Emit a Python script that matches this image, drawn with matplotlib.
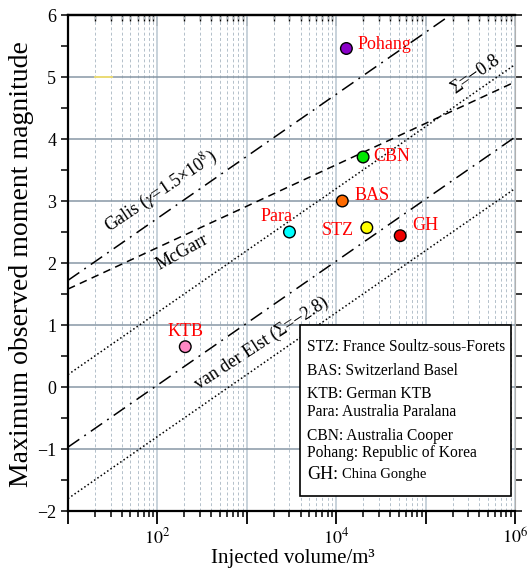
import numpy as np
import matplotlib
matplotlib.use("Agg")
import matplotlib.pyplot as plt
from matplotlib.patches import Rectangle
from matplotlib.ticker import LogLocator, MultipleLocator, NullFormatter

plt.rcParams['font.family'] = ['Liberation Serif', 'DejaVu Serif']
plt.rcParams['mathtext.fontset'] = 'stix'

# observed sites: injected volume (m3) and max magnitude
sites = ["Pohang", "CBN", "BAS", "Para", "STZ", "GH", "KTB"]
volume = [1.3e4, 2.0e4, 1.17e4, 3.0e3, 2.2e4, 5.2e4, 2.05e2]
magnitude = [5.46, 3.71, 3.0, 2.5, 2.57, 2.44, 0.65]
colors = ["#8a00c8", "#00e600", "#ff6a00", "#00ffff", "#ffff00", "#ee0000", "#ff88c4"]
# label offsets (points) relative to each marker
label_dx = [8, 7, 9, -9, -9, 9, 0]
label_dy = [3, 0, 4, 11, -2, 7, 11]
label_ha = ["left", "left", "left", "center", "right", "left", "center"]

# model lines (end points)
galis_v, galis_m = [10, 1.9e5], [1.72, 6.0]
mcgarr_v, mcgarr_m = [10, 1e6], [1.58, 4.92]
elst08_v, elst08_m = [10, 1e6], [0.2, 5.2]
lower_dd_v, lower_dd_m = [10, 1e6], [-0.97, 4.03]
elst28_v, elst28_m = [10, 1e6], [-1.8, 3.2]
yellow_v, yellow_m = [20, 31], [5, 5]

legend_lines = ["STZ: France Soultz-sous-Forets",
                "BAS: Switzerland Basel",
                "KTB: German KTB",
                "Para: Australia Paralana",
                "CBN: Australia Cooper",
                "Pohang: Republic of Korea"]

decades = [10, 1e2, 1e3, 1e4, 1e5, 1e6]
decade_labels = ["", r"$10^2$", "", r"$10^4$", "", r"$10^6$"]

fig = plt.figure(figsize=(5.28, 5.70), dpi=100)
ax = fig.add_axes([68/528, 1 - 511/570, 447/528, 496/570])
ax.set_xscale('log')
ax.set_xlim(10, 1e6)
ax.set_ylim(-2, 6)

ax.set_xticks(decades)
ax.set_xticklabels(decade_labels)
ax.xaxis.set_minor_locator(LogLocator(base=10, subs=np.arange(2, 10), numticks=50))
ax.xaxis.set_minor_formatter(NullFormatter())
ax.yaxis.set_major_locator(MultipleLocator(1))
ax.yaxis.set_minor_locator(MultipleLocator(0.5))

# grid
ax.grid(which='major', axis='y', color='#8797a5', lw=1.1)
ax.grid(which='major', axis='x', color='#c4cfd8', lw=1.3)
ax.grid(which='minor', axis='x', color='#b3c0ca', lw=0.7, ls=(0, (3, 2.5)))
ax.set_axisbelow(True)

ax.plot(yellow_v, yellow_m, color='#f2e070', lw=1.3, zorder=1)

k = 'black'
ax.plot(galis_v, galis_m, color=k, lw=1.1, dashes=(9, 4, 1.2, 4))
ax.plot(mcgarr_v, mcgarr_m, color=k, lw=1.1, dashes=(5, 3.5))
ax.plot(elst08_v, elst08_m, color=k, lw=1.1, dashes=(1, 1.6))
ax.plot(lower_dd_v, lower_dd_m, color=k, lw=1.1, dashes=(9, 4, 1.2, 4))
ax.plot(elst28_v, elst28_m, color=k, lw=1.1, dashes=(1, 1.6))

ax.scatter(volume, magnitude, s=70, c=colors, edgecolors='black', linewidths=1.0, zorder=5)
for name, v, m, dx, dy, ha in zip(sites, volume, magnitude, label_dx, label_dy, label_ha):
    ax.annotate(name, (v, m), xytext=(dx, dy), textcoords='offset points',
                ha=ha, va='center', color='red', fontsize=13, zorder=6)

# line labels
ax.text(110, 3.15, r"Galis ($\gamma$=1.5×10$^8$)", rotation=34, fontsize=13,
        ha='center', va='center', rotation_mode='anchor')
ax.text(190, 2.17, "McGarr", rotation=29, fontsize=13,
        ha='center', va='center', rotation_mode='anchor')
ax.text(3.6e5, 5.05, "Σ=−0.8", rotation=35, fontsize=13.5,
        ha='center', va='center', rotation_mode='anchor')
ax.text(1.45e3, 0.70, "van der Elst (Σ=−2.8)", rotation=33, fontsize=13,
        ha='center', va='center', rotation_mode='anchor')

# text box
ax.add_patch(Rectangle((0.519, 0.030), 0.472, 0.345, transform=ax.transAxes,
                       facecolor='white', edgecolor='black', lw=1.2, zorder=7))
ys = [0.331, 0.282, 0.236, 0.200, 0.151, 0.117]
for line, y in zip(legend_lines, ys):
    ax.text(0.535, y, line, transform=ax.transAxes, fontsize=11.2, va='center', zorder=8)
ax.text(0.535, 0.073, "GH:", transform=ax.transAxes, fontsize=13, va='center', zorder=8)
ax.text(0.612, 0.073, "China Gonghe", transform=ax.transAxes, fontsize=10.5, va='center', zorder=8)

# spines and ticks
for side in ['left', 'bottom', 'top']:
    ax.spines[side].set_linewidth(1.6)
ax.spines['right'].set_color('#b0b0b0')
ax.spines['right'].set_linewidth(0.8)
ax.tick_params(axis='x', which='major', direction='out', length=9, width=1.3, labelsize=13, pad=3)
ax.tick_params(axis='x', which='minor', direction='out', length=4, width=1.1)
ax.tick_params(axis='y', which='both', direction='out', length=5, width=1.1, labelsize=13, right=True)

top = ax.secondary_xaxis('top')
top.set_xticks(decades)
top.set_xticklabels([])
top.xaxis.set_minor_locator(LogLocator(base=10, subs=np.arange(2, 10), numticks=50))
top.xaxis.set_minor_formatter(NullFormatter())
top.tick_params(which='major', direction='in', length=8, width=1.3)
top.tick_params(which='minor', direction='in', length=4, width=1.0)
top.spines['top'].set_linewidth(1.6)

ax.set_xlabel("Injected volume/m³", fontsize=15)
ax.xaxis.set_label_coords(0.503, -0.076)
ax.set_ylabel("Maximum observed moment magnitude", fontsize=20)
ax.yaxis.set_label_coords(-0.076, 0.498)

fig.savefig("out.png", dpi=100)
